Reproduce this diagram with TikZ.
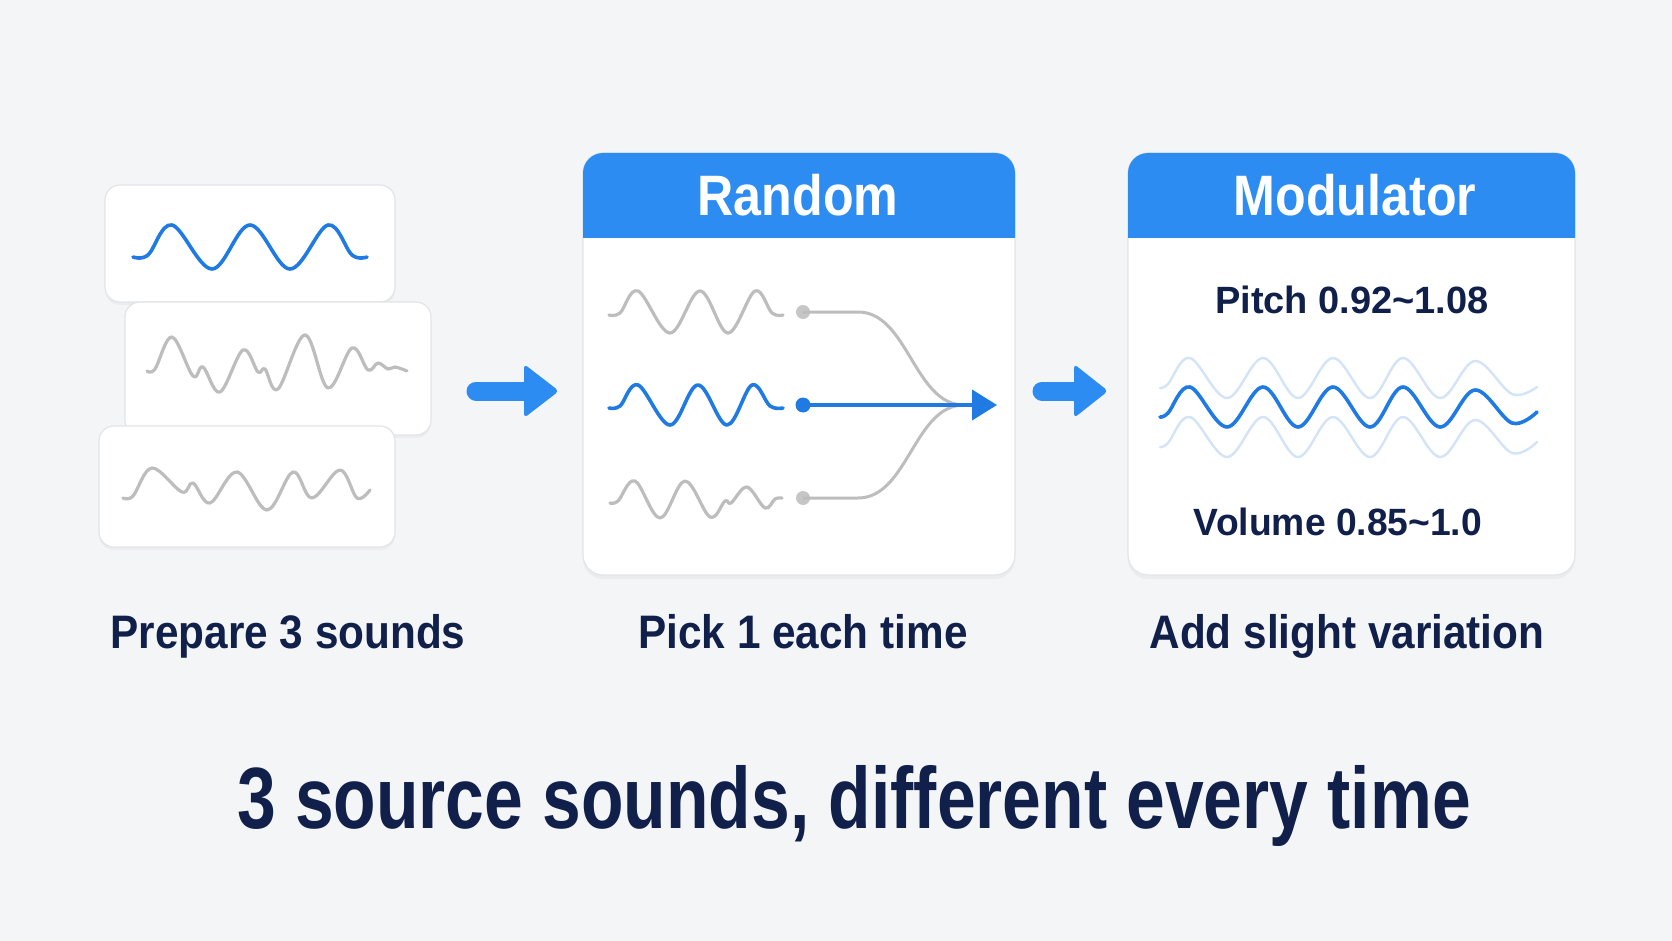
\documentclass[tikz,border=0pt]{standalone}
\usepackage{fontspec}
\setmainfont{Liberation Sans}
\usepackage{graphicx}
\usetikzlibrary{calc,arrows.meta,shadows}
\definecolor{bgc}{HTML}{F4F5F7}
\definecolor{navy}{HTML}{10204A}
\definecolor{headblue}{HTML}{2D8CF2}
\definecolor{waveblue}{HTML}{1F7BE3}
\definecolor{wavegray}{HTML}{BDBDBD}
\definecolor{dotgray}{HTML}{C6C6C6}
\definecolor{lightwave}{HTML}{D4E4F8}
\definecolor{cardline}{HTML}{E2E4E8}
\tikzset{
  card/.style={draw=cardline, line width=1.2pt, fill=white, rounded corners=15pt,
    inner sep=0pt, outer sep=0pt, drop shadow={shadow xshift=0pt, shadow yshift=-3pt, opacity=0.07}},
  panel/.style={draw=cardline, line width=1.2pt, fill=white, rounded corners=20pt,
    inner sep=0pt, outer sep=0pt, drop shadow={shadow xshift=0pt, shadow yshift=-4pt, opacity=0.07}},
  bluewave/.style={draw=waveblue, line width=3.6pt, line cap=round, line join=round},
  graywave/.style={draw=wavegray, line width=3.2pt, line cap=round, line join=round},
  lightw/.style={draw=lightwave, line width=2.4pt, line cap=round, line join=round},
  fatarrow/.style={draw=headblue, line width=19pt, line cap=round},
  fathead/.style={fill=headblue, rounded corners=4pt},
  label/.style={text=navy, font=\bfseries\fontsize{47}{50}\selectfont, anchor=base, inner sep=0pt},
  headtxt/.style={text=white, font=\bfseries\fontsize{57}{60}\selectfont, anchor=base, inner sep=0pt},
  valtxt/.style={text=navy, font=\bfseries\fontsize{38}{40}\selectfont, anchor=base, inner sep=0pt},
  dotg/.style={circle, fill=dotgray, inner sep=0pt, minimum size=14pt},
  dotb/.style={circle, fill=waveblue, inner sep=0pt, minimum size=15pt},
}
\begin{document}
\begin{tikzpicture}[x=1pt,y=-1pt]
\fill[bgc] (0,0) rectangle (1672,941);
\useasboundingbox (0,0) rectangle (1672,941);

% ---- stacked source cards
\node[card, minimum width=290pt, minimum height=117pt] (card1) at (250,243.5) {};
\node[card, minimum width=306pt, minimum height=133pt] (card2) at (278,368.5) {};
\node[card, minimum width=296pt, minimum height=121pt] (card3) at (247,486.5) {};

\draw[bluewave] plot[smooth, tension=0.6] coordinates {(133,257) (148,255) (172,225) (212,269) (250,225) (290,269) (328,225) (352,255) (367,257)};
\draw[graywave] plot[smooth, tension=0.6] coordinates {(147,371) (155,369) (172,337) (193,376) (203,367) (220,392) (243,350) (258,372) (265,369) (278,389) (305,335) (328,388) (352,348) (368,370) (378,363) (388,369) (395,367) (407,371)};
\draw[graywave] plot[smooth, tension=0.6] coordinates {(123,498) (133,496) (152,468) (182,492) (193,483) (210,503) (237,472) (267,510) (293,472) (312,498) (340,470) (357,498) (370,490)};

% ---- arrow 1
\coordinate (a1s) at (476,391);
\coordinate (a1e) at (559,391);
\draw[fatarrow] (a1s) -- ($(a1e)+(-30,0)$);
\fill[fathead] ($(a1e)+(-35,-27)$) -- (a1e) -- ($(a1e)+(-35,27)$) -- cycle;

% ---- Random panel
\node[panel, minimum width=432pt, minimum height=422pt] (rand) at (799,364) {};
\fill[headblue] ($(rand.north west)+(0,85)$) {[rounded corners=20pt] -- (rand.north west) -- (rand.north east)} -- ($(rand.north east)+(0,85)$) -- cycle;
\node[headtxt] (randt) at (798,216) {\scalebox{0.88}[1]{Random}};

\draw[graywave] plot[smooth, tension=0.6] coordinates {(609,315) (620,313) (638,291) (670,333) (700,291) (728,333) (755,291) (772,313) (783,315)};
\draw[bluewave] plot[smooth, tension=0.6] coordinates {(609,408) (620,406) (638,385) (670,425) (698,385) (727,425) (752,385) (770,406) (783,408)};
\draw[graywave] plot[smooth, tension=0.6] coordinates {(610,503) (618,501) (635,481) (660,518) (685,481) (710,517) (725,501) (731,503) (747,487) (765,508) (775,499) (782,498)};

\node[dotg] (d1) at (803,312) {};
\node[dotb] (d2) at (803,405) {};
\node[dotg] (d3) at (803,498) {};
\coordinate (join) at (964,405);
\coordinate (tip) at (997,405);
\draw[draw=wavegray, line width=3pt] (d1.center) -- (858,312) .. controls (908,312) and (914,405) .. (join);
\draw[draw=wavegray, line width=3pt] (d3.center) -- (858,498) .. controls (908,498) and (914,405) .. (join);
\draw[draw=waveblue, line width=4pt, -{Triangle[length=25pt,width=30pt]}] (d2.center) -- (tip);

% ---- arrow 2
\coordinate (a2s) at (1042,391);
\coordinate (a2e) at (1108,391);
\draw[fatarrow] (a2s) -- ($(a2e)+(-30,0)$);
\fill[fathead] ($(a2e)+(-34,-27)$) -- (a2e) -- ($(a2e)+(-34,27)$) -- cycle;

% ---- Modulator panel
\node[panel, minimum width=447pt, minimum height=422pt] (mod) at (1351.5,364) {};
\fill[headblue] ($(mod.north west)+(0,85)$) {[rounded corners=20pt] -- (mod.north west) -- (mod.north east)} -- ($(mod.north east)+(0,85)$) -- cycle;
\node[headtxt] (modt) at (1355,216) {\scalebox{0.88}[1]{Modulator}};

\node[valtxt] (pitch) at (1352,313) {Pitch 0.92\char"007E 1.08};
\node[valtxt] (vol) at (1338,535) {\scalebox{0.98}[1]{Volume 0.85\char"007E 1.0}};

\draw[lightw] plot[smooth, tension=0.6] coordinates {(1160,388) (1168,384) (1190,358) (1227,398) (1263,358) (1298,398) (1333,358) (1370,398) (1403,358) (1440,398) (1475,361) (1512,394) (1537,387)};
\draw[lightw] plot[smooth, tension=0.6] coordinates {(1160,447) (1168,443) (1190,417) (1227,457) (1263,417) (1298,457) (1333,417) (1370,457) (1403,417) (1440,457) (1475,420) (1512,453) (1537,442)};
\draw[bluewave] plot[smooth, tension=0.6] coordinates {(1160,417) (1168,413) (1190,387) (1227,427) (1263,387) (1298,427) (1333,387) (1370,427) (1403,387) (1440,427) (1475,390) (1512,423) (1537,412)};

% ---- labels
\node[label] (lab1) at (288,648) {\scalebox{0.9}[1]{Prepare 3 sounds}};
\node[label] (lab2) at (803,648) {\scalebox{0.9}[1]{Pick 1 each time}};
\node[label] (lab3) at (1347,648) {\scalebox{0.9}[1]{Add slight variation}};
\node[text=navy, font=\bfseries\fontsize{87}{90}\selectfont, anchor=base, inner sep=0pt] (title) at (854,828) {\scalebox{0.8}[1]{3 source sounds, different every time}};
\end{tikzpicture}
\end{document}
